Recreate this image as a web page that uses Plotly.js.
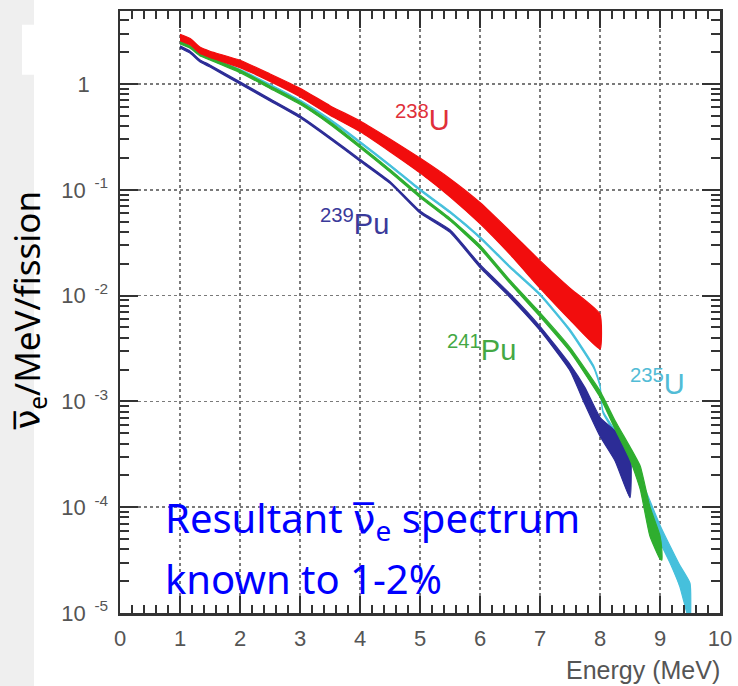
<!DOCTYPE html>
<html>
<head>
<meta charset="utf-8">
<script src="https://cdn.plot.ly/plotly-3.0.1.min.js"></script>
<style>
  html, body { margin: 0; padding: 0; background: #ffffff; }
  #chart { width: 738px; height: 686px; }
</style>
</head>
<body>
<div id="chart"></div>
<script>
// Antineutrino yield per fission (per MeV) for the four fissioning isotopes.
// Each isotope is stored as energy points with the upper and lower edge of its band.

// 238U
const u238Energy = [1.0, 1.17, 1.33, 1.5, 2.0, 2.5, 3.0, 3.5, 4.0, 4.5, 5.0, 5.5, 6.0, 6.5, 7.0, 7.5, 8.0];
const u238Upper  = [2.951, 2.692, 2.239, 2.042, 1.679, 1.245, 0.912, 0.624, 0.447, 0.302, 0.1995, 0.1274, 0.0759, 0.0407, 0.0214, 0.01175, 0.00668];
const u238Lower  = [2.570, 2.344, 1.950, 1.778, 1.429, 1.059, 0.759, 0.507, 0.355, 0.229, 0.1445, 0.0861, 0.0479, 0.0245, 0.01175, 0.00589, 0.00313];

// 235U
const u235Energy = [1.0, 1.5, 2.0, 2.5, 3.0, 3.5, 4.0, 4.5, 5.0, 5.5, 6.0, 6.5, 7.0, 7.5, 7.9, 8.0, 8.05, 8.5, 9.0, 9.17, 9.33, 9.5];
const u235Upper  = [2.559, 1.811, 1.374, 0.995, 0.705, 0.466, 0.287, 0.173, 0.1019, 0.0628, 0.0361, 0.01897, 0.01042, 0.00479, 0.00214, 0.001445, 0.000813, 0.000324, 0.0000676, 0.0000427, 0.0000282, 0.0000191];
const u235Lower  = [2.466, 1.746, 1.324, 0.959, 0.679, 0.449, 0.277, 0.167, 0.0982, 0.0605, 0.0348, 0.01828, 0.01005, 0.00457, 0.00204, 0.00138, 0.000776, 0.000295, 0.0000468, 0.0000295, 0.0000178, 0.00000794];

// 239Pu
const pu239Energy = [1.0, 1.17, 1.33, 1.5, 2.0, 2.5, 3.0, 3.5, 4.0, 4.5, 5.0, 5.5, 6.0, 6.5, 7.0, 7.5, 7.75, 8.0, 8.25, 8.5];
const pu239Upper  = [2.291, 2.042, 1.698, 1.514, 1.047, 0.724, 0.501, 0.316, 0.195, 0.120, 0.0631, 0.0419, 0.0197, 0.01042, 0.00513, 0.00224, 0.00135, 0.000708, 0.000525, 0.000355];
const pu239Lower  = [2.188, 1.950, 1.622, 1.445, 1.000, 0.692, 0.479, 0.302, 0.186, 0.115, 0.0603, 0.0396, 0.0184, 0.00959, 0.00468, 0.00195, 0.000933, 0.000468, 0.000275, 0.000123];

// 241Pu
const pu241Energy = [1.0, 1.17, 1.33, 1.5, 2.0, 2.5, 3.0, 3.5, 4.0, 4.5, 5.0, 5.5, 6.0, 6.5, 7.0, 7.5, 8.0, 8.25, 8.5, 8.67, 8.83, 9.0, 9.03];
const pu241Upper  = [2.523, 2.301, 1.959, 1.786, 1.355, 0.959, 0.679, 0.439, 0.264, 0.156, 0.0895, 0.0540, 0.0299, 0.01396, 0.00689, 0.00324, 0.00126, 0.000661, 0.000372, 0.000245, 0.000102, 0.0000537, 0.0000398];
const pu241Lower  = [2.388, 2.178, 1.854, 1.690, 1.282, 0.908, 0.643, 0.415, 0.250, 0.147, 0.0847, 0.0511, 0.0279, 0.01303, 0.00634, 0.00295, 0.001096, 0.000550, 0.000282, 0.000148, 0.0000537, 0.0000324, 0.0000316];

// Axis labels
const xTickVals = [0, 1, 2, 3, 4, 5, 6, 7, 8, 9, 10];
const xTickText = ['0', '1', '2', '3', '4', '5', '6', '7', '8', '9', '10'];
const yTickVals = [1e-5, 1e-4, 1e-3, 1e-2, 1e-1, 1];
const yTickText = [
  '10<sup>\u00a0\u00a0-5</sup>',
  '10<sup>\u00a0\u00a0-4</sup>',
  '10<sup>\u00a0\u00a0-3</sup>',
  '10<sup>\u00a0\u00a0-2</sup>',
  '10<sup>\u00a0\u00a0-1</sup>',
  '1\u00a0\u00a0\u00a0'
];

const colors = {
  u238: '#f20d0d',
  u235: '#46c0dc',
  pu239: '#2c2c96',
  pu241: '#2fae2f'
};

// Closed polygon: upper edge left to right, lower edge right to left.
function band(energy, upper, lower, color, name) {
  return {
    type: 'scatter',
    mode: 'lines',
    name: name,
    x: energy.concat(energy.slice().reverse()),
    y: upper.concat(lower.slice().reverse()),
    fill: 'toself',
    fillcolor: color,
    line: { color: color, width: 1.2, shape: 'spline', smoothing: 0.45 },
    hoverinfo: 'skip',
    showlegend: false
  };
}

const traces = [
  band(u235Energy, u235Upper, u235Lower, colors.u235, '235U'),
  band(pu239Energy, pu239Upper, pu239Lower, colors.pu239, '239Pu'),
  band(pu241Energy, pu241Upper, pu241Lower, colors.pu241, '241Pu'),
  band(u238Energy, u238Upper, u238Lower, colors.u238, '238U')
];

// Minor tick positions on the log axis: 2..9 within each decade
const yMinor = [];
for (let d = -5; d <= 0; d++) {
  for (let k = 2; k <= 9; k++) yMinor.push(k * Math.pow(10, d));
}

const tickFont = { family: 'Liberation Sans, Arial, sans-serif', size: 22, color: '#555555' };
const handFont = 'Noto Sans, DejaVu Sans, sans-serif';
// the barred nu is set in DejaVu Sans, whose combining overline spans the whole letter
const nuBar = '<span style="font-family:DejaVu Sans">\u03bd\u0305</span>';

const layout = {
  width: 738,
  height: 686,
  margin: { l: 120, r: 18, t: 11, b: 73 },
  paper_bgcolor: '#ffffff',
  plot_bgcolor: '#ffffff',
  showlegend: false,
  xaxis: {
    range: [0, 10],
    tickmode: 'array',
    tickvals: xTickVals,
    ticktext: xTickText,
    tickfont: tickFont,
    ticks: 'inside',
    ticklen: 17,
    tickwidth: 2,
    tickcolor: '#333333',
    ticklabelstandoff: 4,
    showline: true,
    linecolor: '#333333',
    linewidth: 2.5,
    mirror: 'allticks',
    showgrid: true,
    gridcolor: '#7a7a7a',
    gridwidth: 1.5,
    griddash: 'dot',
    zeroline: false,
    minor: { dtick: 0.2, tick0: 0, ticks: 'inside', ticklen: 8, tickwidth: 2, tickcolor: '#333333', showgrid: false }
  },
  yaxis: {
    type: 'log',
    range: [-5, 0.69],
    tickmode: 'array',
    tickvals: yTickVals,
    ticktext: yTickText,
    tickfont: tickFont,
    ticks: 'inside',
    ticklen: 18,
    tickwidth: 2,
    tickcolor: '#333333',
    ticklabelstandoff: 5,
    showline: true,
    linecolor: '#333333',
    linewidth: 2.5,
    mirror: 'allticks',
    showgrid: true,
    gridcolor: '#7a7a7a',
    gridwidth: 1.5,
    griddash: 'dot',
    zeroline: false,
    minor: { tickmode: 'array', tickvals: yMinor, ticks: 'inside', ticklen: 9, tickwidth: 2, tickcolor: '#333333', showgrid: false }
  },
  shapes: [
    { type: 'rect', xref: 'paper', yref: 'paper', x0: -0.2, x1: -0.1433, y0: -0.125, y1: 1.02,
      fillcolor: '#efefef', line: { width: 0 }, layer: 'below' },
    { type: 'rect', xref: 'paper', yref: 'paper', x0: -0.1633, x1: -0.0633, y0: 0.894, y1: 0.977,
      fillcolor: '#ffffff', line: { width: 0 }, layer: 'below' }
  ],
  annotations: [
    // y axis title
    { xref: 'paper', yref: 'paper', x: -0.153, y: 0.503, xanchor: 'center', yanchor: 'middle',
      textangle: -90, showarrow: false,
      text: nuBar + '<sub>e</sub>/MeV/fission',
      font: { family: handFont, size: 35, color: '#000000' } },
    // x axis title
    { xref: 'paper', yref: 'paper', x: 1.003, y: -0.095, xanchor: 'right', yanchor: 'middle',
      showarrow: false, text: 'Energy (MeV)',
      font: { family: 'Liberation Sans, Arial, sans-serif', size: 25, color: '#555555' } },
    // isotope labels
    { xref: 'paper', yref: 'paper', x: 0.455, y: 0.822, xanchor: 'left', yanchor: 'middle',
      showarrow: false, text: '<sup>238</sup>U',
      font: { family: 'Liberation Sans, Arial, sans-serif', size: 29, color: '#e0303a' } },
    { xref: 'paper', yref: 'paper', x: 0.330, y: 0.6495, xanchor: 'left', yanchor: 'middle',
      showarrow: false, text: '<sup>239</sup>Pu',
      font: { family: 'Liberation Sans, Arial, sans-serif', size: 29, color: '#3a3a9a' } },
    { xref: 'paper', yref: 'paper', x: 0.5417, y: 0.440, xanchor: 'left', yanchor: 'middle',
      showarrow: false, text: '<sup>241</sup>Pu',
      font: { family: 'Liberation Sans, Arial, sans-serif', size: 29, color: '#44a844' } },
    { xref: 'paper', yref: 'paper', x: 0.8467, y: 0.3837, xanchor: 'left', yanchor: 'middle',
      showarrow: false, text: '<sup>235</sup>U',
      font: { family: 'Liberation Sans, Arial, sans-serif', size: 29, color: '#52bcd6' } },
    // statement in the lower left, two lines
    { xref: 'paper', yref: 'paper', x: 0.0717, y: 0.1545, xanchor: 'left', yanchor: 'middle',
      showarrow: false, text: 'Resultant ' + nuBar + '<sub>e</sub> spectrum',
      font: { family: handFont, size: 40, color: '#0000ff' } },
    { xref: 'paper', yref: 'paper', x: 0.0717, y: 0.0565, xanchor: 'left', yanchor: 'middle',
      showarrow: false, text: 'known to 1-2%',
      font: { family: handFont, size: 40, color: '#0000ff' } }
  ]
};

Plotly.newPlot('chart', traces, layout, { displayModeBar: false, staticPlot: true });
</script>
</body>
</html>
